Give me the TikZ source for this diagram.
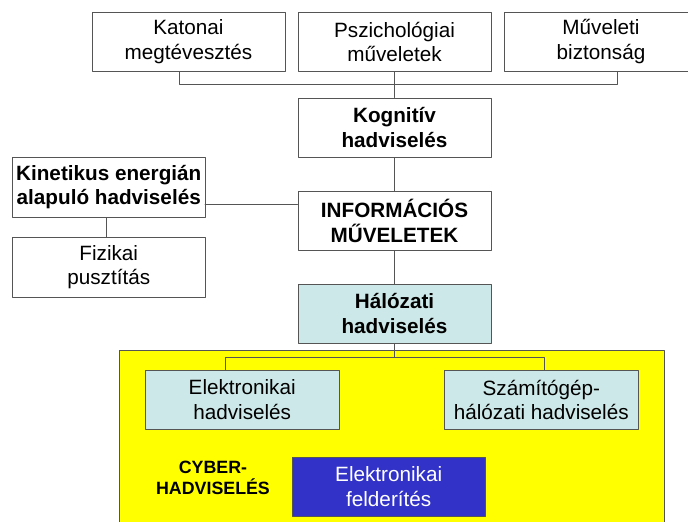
\documentclass[tikz,border=0pt]{standalone}
\usepackage{fontspec}
\setmainfont{Liberation Sans}
\usetikzlibrary{calc}
\definecolor{lineGray}{RGB}{85,85,85}
\definecolor{paleCyan}{RGB}{205,232,232}
\definecolor{deepBlue}{RGB}{50,50,200}
\definecolor{cyberYellow}{RGB}{255,255,0}
\begin{document}
\begin{tikzpicture}[x=1pt,y=-1pt,line join=round,line cap=round]
                    \tikzset{box/.style={draw=lineGray,line width=1pt,fill=white,text=black,
                        minimum width=193pt,minimum height=59pt,inner sep=0pt,align=center,
                        font=\fontsize{20.7}{24.5}\selectfont},
                        boldbox/.style={box,font=\fontsize{20.7}{24.5}\selectfont\bfseries},
                        netbox/.style={box,fill=paleCyan},
                        conn/.style={draw=lineGray,line width=1pt}}
                    \useasboundingbox (0,0) rectangle (688,522);
                    \clip (0,0) rectangle (688,522);
                    \fill[white] (0,0) rectangle (688,522);
                    % yellow cyber area
                    \filldraw[fill=cyberYellow,draw=lineGray,line width=1pt] (119,350.7) rectangle (664.3,540);
                    % top row
                    \node[box] (kat) at (188.5,41.75) {Katonai\\megtévesztés};
                    \node[box] (psz) at (394.5,41.75) {Pszichológiai\\műveletek};
                    \node[box,minimum width=194pt] (muv) at (601,41.75) {Műveleti\\biztonság};
                    % middle column
                    \node[boldbox] (kog) at (394.5,127.5) {Kognitív\\hadviselés};
                    \node[boldbox,minimum height=58.5pt] (info) at (394.5,220.75) {INFORMÁCIÓS\\MŰVELETEK};
                    \node[netbox,font=\fontsize{20.7}{24.5}\selectfont\bfseries] (hal) at (394.5,313.7) {Hálózati\\hadviselés};
                    % left side
                    \node[boldbox,minimum width=192.5pt,minimum height=60pt] (kin) at (108.75,187.25) {Kinetikus energián\\alapuló hadviselés};
                    \node[box,minimum width=192.5pt,minimum height=60pt] (fiz) at (108.75,267.3) {Fizikai\\pusztítás};
                    % inside the yellow area
                    \node[netbox,minimum width=193.7pt] (elh) at (242.2,399.8) {Elektronikai\\hadviselés};
                    \node[netbox,minimum width=194pt] (szh) at (541.3,399.8) {Számítógép-\\hálózati hadviselés};
                    \node[box,fill=deepBlue,text=white,minimum width=192.7pt] (elf) at (388.7,486.5) {Elektronikai\\felderítés};
                    \node[align=center,inner sep=0pt,font=\fontsize{17.8}{21.5}\selectfont\bfseries] (cyb) at (213,478) {CYBER-\\HADVISELÉS};
                    % connectors
                    \coordinate (jtop) at (394.5,84.3);
                    \coordinate (jnet) at (394.5,357.3);
                    \coordinate (jkin) at (205,204);
                    \draw[conn] ([xshift=-9.5pt]kat.south) |- (jtop) -| ([xshift=16.7pt]muv.south);
                    \draw[conn] (psz.south) -- (kog.north);
                    \draw[conn] (kog.south) -- (info.north);
                    \draw[conn] (info.south) -- (hal.north);
                    \draw[conn] (jkin) -- (jkin -| info.west);
                    \draw[conn] ([xshift=-2.75pt]kin.south) -- ([xshift=-2.75pt]fiz.north);
                    \draw[conn] (hal.south) -- (jnet);
                    \draw[conn] ([xshift=-16.5pt]elh.north) |- (jnet) -| ([xshift=3pt]szh.north);
                \end{tikzpicture}
\end{document}
